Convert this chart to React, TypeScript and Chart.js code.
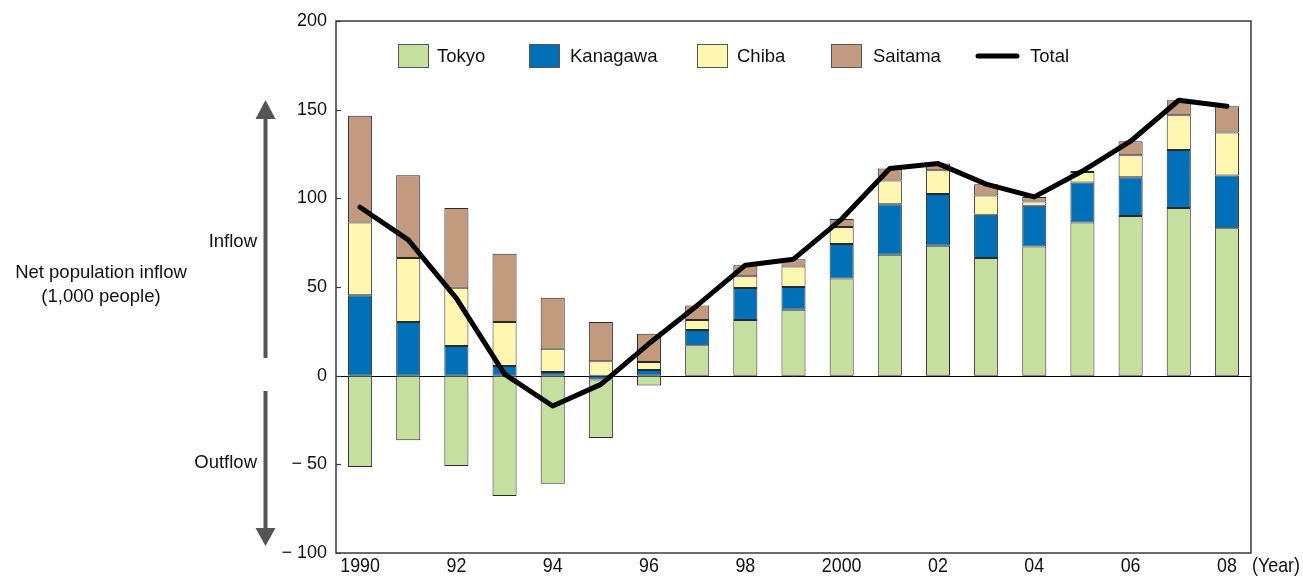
import React, { useEffect, useRef } from 'react';
import { Chart, registerables } from 'chart.js';

Chart.register(...registerables);

const years = ['1990','1991','1992','1993','1994','1995','1996','1997','1998','1999','2000','2001','2002','2003','2004','2005','2006','2007','2008'];
const xTickLabels = ['1990','','92','','94','','96','','98','','2000','','02','','04','','06','','08'];
const tokyo = [-51.5,-36.4,-50.9,-67.8,-61.0,-33.0,-5.6,17.1,31.4,37.2,54.8,68.2,73.2,66.3,72.8,86.4,90.1,94.6,83.2];
const kanagawa = [45.4,30.2,16.7,5.5,2.1,-2.1,3.2,8.6,18.0,12.8,19.4,28.5,29.2,24.4,23.0,22.5,21.8,32.6,29.7];
const chiba = [41.0,36.1,32.9,24.7,13.1,8.1,4.5,5.7,6.6,11.6,9.6,13.3,13.5,10.9,2.4,6.0,12.4,19.7,24.2];
const saitama = [60.1,46.7,44.9,38.5,28.7,22.1,16.0,8.2,6.3,4.1,4.5,6.8,3.7,6.4,2.6,0.5,7.9,8.4,14.8];
const total = [95.0,76.6,43.6,0.9,-17.1,-4.9,18.1,39.6,62.3,65.7,88.3,116.8,119.6,108.0,100.8,115.4,132.2,155.3,151.9];
const yTickValues = [-100,-50,0,50,100,150,200];
const yTickLabels = ['\u2212 100','\u2212 50','0','50','100','150','200'];
const seriesNames = ['Tokyo','Kanagawa','Chiba','Saitama','Total'];

const COLORS = {
  tokyo: '#c5df9e',
  kanagawa: '#0071b9',
  chiba: '#fff7b0',
  saitama: '#c49a7f',
  total: '#000000',
};

const SANS = '"Liberation Sans", Arial, Helvetica, sans-serif';

const kanagawaPos = kanagawa.map(v => (v >= 0 ? v : null));
const kanagawaNeg = kanagawa.map(v => (v < 0 ? v : null));

function narrowText(ctx: CanvasRenderingContext2D, text: string, x: number, y: number, align: 'left' | 'center') {
  const sx = 0.85;
  ctx.save();
  ctx.font = `21px ${SANS}`;
  ctx.textBaseline = 'middle';
  ctx.textAlign = align;
  ctx.translate(x, y);
  ctx.scale(sx, 1);
  ctx.fillText(text, 0, 0);
  ctx.restore();
}

const decorPlugin = {
  id: 'decor',
  beforeDatasetsDraw(chart: any) {
    const { ctx } = chart;
    const y = chart.scales.y;
    const ca = chart.chartArea;
    ctx.save();
    ctx.strokeStyle = '#000';
    ctx.lineWidth = 1;
    const zy = Math.round(y.getPixelForValue(0)) + 0.5;
    ctx.beginPath();
    ctx.moveTo(ca.left, zy);
    ctx.lineTo(ca.right, zy);
    ctx.stroke();
    ctx.restore();
  },
  afterDraw(chart: any) {
    const { ctx } = chart;
    const y = chart.scales.y;
    const x = chart.scales.x;
    const ca = chart.chartArea;
    ctx.save();
    // frame
    ctx.strokeStyle = '#3a3a3a';
    ctx.lineWidth = 1.5;
    ctx.strokeRect(ca.left, ca.top, ca.right - ca.left, ca.bottom - ca.top);
    // inside ticks
    ctx.lineWidth = 1.2;
    yTickValues.forEach(v => {
      const py = Math.round(y.getPixelForValue(v)) + 0.5;
      ctx.beginPath();
      ctx.moveTo(ca.left, py);
      ctx.lineTo(ca.left + 5, py);
      ctx.stroke();
    });

    // x tick labels (condensed)
    ctx.fillStyle = '#111';
    xTickLabels.forEach((lab, i) => {
      if (!lab) return;
      narrowText(ctx, lab, x.getPixelForValue(i), 566, 'center');
    });
    narrowText(ctx, '(Year)', 1252, 566, 'left');

    // legend
    ctx.font = `18.5px ${SANS}`;
    ctx.textBaseline = 'middle';
    ctx.textAlign = 'left';
    ctx.fillStyle = '#111';
    const ly = 56;
    const boxes = [
      { x: 398, color: COLORS.tokyo, tx: 437, label: seriesNames[0] },
      { x: 529, color: COLORS.kanagawa, tx: 570, label: seriesNames[1] },
      { x: 697, color: COLORS.chiba, tx: 737, label: seriesNames[2] },
      { x: 831, color: COLORS.saitama, tx: 873, label: seriesNames[3] },
    ];
    boxes.forEach(b => {
      ctx.fillStyle = b.color;
      ctx.fillRect(b.x, ly - 12, 31, 24);
      ctx.strokeStyle = '#555';
      ctx.lineWidth = 1;
      ctx.strokeRect(b.x + 0.5, ly - 11.5, 30, 23);
      ctx.fillStyle = '#111';
      ctx.fillText(b.label, b.tx, ly + 1);
    });
    ctx.strokeStyle = '#000';
    ctx.lineWidth = 5;
    ctx.lineCap = 'round';
    ctx.beginPath();
    ctx.moveTo(978, ly);
    ctx.lineTo(1017, ly);
    ctx.stroke();
    ctx.fillText(seriesNames[4], 1030, ly + 1);

    // left annotations
    ctx.fillStyle = '#111';
    ctx.textAlign = 'center';
    ctx.fillText('Net population inflow', 101, 273);
    ctx.fillText('(1,000 people)', 101, 297);
    ctx.textAlign = 'right';
    ctx.fillText('Inflow', 257, 242);
    ctx.fillText('Outflow', 257, 463);

    // arrows
    ctx.fillStyle = '#555';
    const ax = 265.5;
    ctx.fillRect(ax - 2, 116, 4, 242);
    ctx.beginPath();
    ctx.moveTo(ax, 100);
    ctx.lineTo(ax - 10, 119);
    ctx.lineTo(ax + 10, 119);
    ctx.closePath();
    ctx.fill();
    ctx.fillRect(ax - 2, 391, 4, 141);
    ctx.beginPath();
    ctx.moveTo(ax, 546);
    ctx.lineTo(ax - 10, 528);
    ctx.lineTo(ax + 10, 528);
    ctx.closePath();
    ctx.fill();
    ctx.restore();
  },
};

export default function App() {
  const ref = useRef<HTMLCanvasElement>(null);
  useEffect(() => {
    if (!ref.current) return;
    const barCommon = {
      type: 'bar' as const,
      borderColor: '#2a2a2a',
      borderWidth: 1,
      borderSkipped: false,
      categoryPercentage: 0.5,
      barPercentage: 1,
      order: 1,
    };
    const chart = new Chart(ref.current, {
      type: 'bar',
      data: {
        labels: years,
        datasets: [
          { ...barCommon, label: 'Kanagawa (neg)', data: kanagawaNeg, backgroundColor: COLORS.kanagawa },
          { ...barCommon, label: seriesNames[0], data: tokyo, backgroundColor: COLORS.tokyo },
          { ...barCommon, label: seriesNames[1], data: kanagawaPos, backgroundColor: COLORS.kanagawa },
          { ...barCommon, label: seriesNames[2], data: chiba, backgroundColor: COLORS.chiba },
          { ...barCommon, label: seriesNames[3], data: saitama, backgroundColor: COLORS.saitama },
          {
            type: 'line' as const,
            label: seriesNames[4],
            data: total,
            borderColor: COLORS.total,
            borderWidth: 5,
            pointRadius: 0,
            tension: 0,
            borderCapStyle: 'round',
            borderJoinStyle: 'round',
            order: 0,
          } as any,
        ],
      },
      options: {
        responsive: false,
        animation: false,
        devicePixelRatio: 1,
        layout: { padding: { left: 0, top: 21, right: 52, bottom: 0 } },
        plugins: {
          legend: { display: false },
          tooltip: { enabled: false },
        },
        scales: {
          x: {
            stacked: true,
            grid: { display: false, drawTicks: false },
            border: { display: false },
            ticks: { display: false, autoSkip: false },
            afterFit: (s: any) => { s.height = 576 - 553; },
          },
          y: {
            stacked: true,
            min: -100,
            max: 200,
            grid: { display: false, drawTicks: false },
            border: { display: false },
            ticks: {
              stepSize: 50,
              padding: 9,
              color: '#111',
              font: { family: SANS, size: 18 },
              callback: (v: any) => {
                const i = yTickValues.indexOf(Number(v));
                return i >= 0 ? yTickLabels[i] : '';
              },
            },
            afterFit: (s: any) => { s.width = 336; },
          },
        },
      },
      plugins: [decorPlugin],
    } as any);
    return () => chart.destroy();
  }, []);
  return (
    <div style={{ position: 'absolute', left: 0, top: 0, width: 1303, height: 576, background: '#fff' }}>
      <canvas ref={ref} width={1303} height={576} />
    </div>
  );
}
